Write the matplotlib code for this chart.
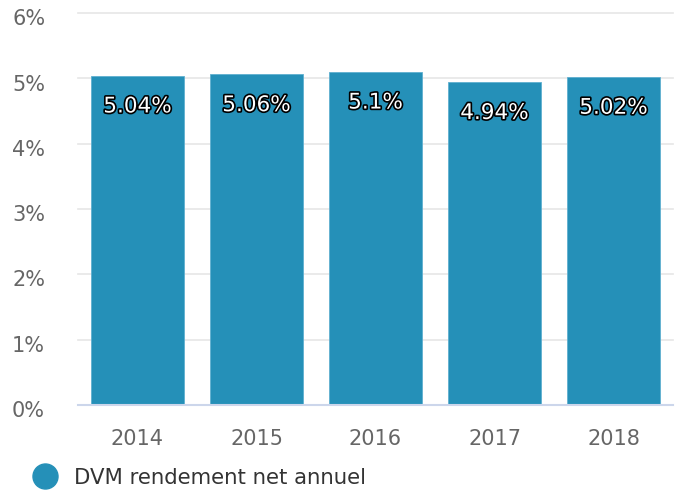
import matplotlib.pyplot as plt
import matplotlib.patheffects as pe
from matplotlib.lines import Line2D
from matplotlib.transforms import ScaledTranslation

years = ['2014', '2015', '2016', '2017', '2018']
rendement = [5.04, 5.06, 5.1, 4.94, 5.02]
labels = ['5.04%', '5.06%', '5.1%', '4.94%', '5.02%']
yticks = [0, 1, 2, 3, 4, 5, 6]

plt.rcParams['font.family'] = ['DejaVu Sans']

fig = plt.figure(figsize=(6.77, 4.92), dpi=100)
ax = fig.add_axes([78 / 677, 87 / 492, 595 / 677, 392 / 492])

x = range(len(years))
bars = ax.bar(x, rendement, width=0.78, color='#2590b8', edgecolor='#5fb0d0',
              linewidth=0.6, zorder=3)

for b, lab in zip(bars, labels):
    ax.text(b.get_x() + b.get_width() / 2, b.get_height() - 0.47, lab,
            ha='center', va='center', fontsize=15.5, color='white',
            path_effects=[pe.withStroke(linewidth=2.4, foreground='black')], zorder=4)

ax.set_xlim(-0.5, len(years) - 0.5)
ax.set_ylim(0, 6)
ax.set_yticks(yticks)
ax.set_yticklabels([f'{t}%' for t in yticks])
ax.set_xticks(list(x))
ax.set_xticklabels(years)

ax.grid(axis='y', color='#e6e6e6', linewidth=1.2, zorder=0)
for gl in ax.get_ygridlines():
    gl.set_clip_on(False)
for s in ['top', 'right', 'left']:
    ax.spines[s].set_visible(False)
ax.spines['bottom'].set_color('#ccd6eb')
ax.spines['bottom'].set_linewidth(1.5)
ax.spines['bottom'].set_zorder(5)
ax.tick_params(axis='y', length=0, labelsize=15, labelcolor='#666666', pad=47.5)
ax.tick_params(axis='x', length=0, labelsize=15, labelcolor='#666666', pad=17)
shift = ScaledTranslation(0, -3 / 72, fig.dpi_scale_trans)
for t in ax.get_yticklabels():
    t.set_horizontalalignment('left')
    t.set_transform(t.get_transform() + shift)

fig.add_artist(Line2D([45 / 677], [1 - 476 / 492], marker='o', markersize=18,
                      color='#2590b8', linestyle='none', transform=fig.transFigure))
fig.text(74 / 677, 1 - 478 / 492, 'DVM rendement net annuel', fontsize=15.3,
         color='#333333', ha='left', va='center')

fig.savefig('out.png', dpi=100)
